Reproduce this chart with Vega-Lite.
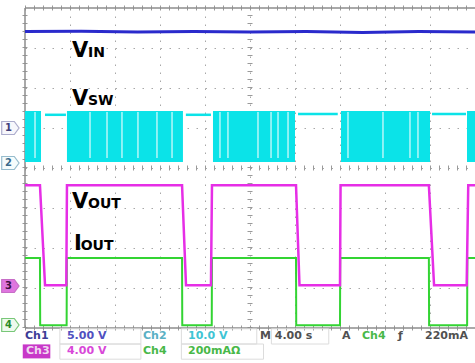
{
  "$schema": "https://vega.github.io/schema/vega-lite/v6.json",
  "width": 450,
  "height": 320,
  "autosize": {"type": "none"},
  "padding": {"left": 25, "top": 8, "right": 0, "bottom": 35},
  "background": "white",
  "config": {
    "view": {"stroke": null},
    "axis": {"domain": false, "ticks": false, "labels": false, "grid": true, "gridColor": "#a8a8a8", "gridWidth": 1},
    "axisX": {"gridDash": [1.5, 6.5]},
    "axisY": {"gridDash": [1.5, 7.5]}
  },
  "resolve": {"scale": {"color": "independent", "fill": "independent", "stroke": "independent"}},
  "datasets": {
    "vin": [
      {"t": 0, "v": 3.41}, {"t": 5, "v": 3.42}, {"t": 10, "v": 3.4}, {"t": 15, "v": 3.41},
      {"t": 20, "v": 3.4}, {"t": 25, "v": 3.41}, {"t": 30, "v": 3.39}, {"t": 35, "v": 3.41}, {"t": 40, "v": 3.4}
    ],
    "bursts": [
      {"t": 0, "t2": 1.42, "v": 0.15, "v2": 1.425},
      {"t": 3.73, "t2": 14.04, "v": 0.15, "v2": 1.425},
      {"t": 16.71, "t2": 24.0, "v": 0.15, "v2": 1.425},
      {"t": 28.09, "t2": 36.0, "v": 0.15, "v2": 1.425},
      {"t": 39.29, "t2": 40, "v": 0.15, "v2": 1.425}
    ],
    "streaks": [
      {"t": 0.89, "v": 0.25, "v2": 1.4}, {"t": 5.78, "v": 0.25, "v2": 1.4}, {"t": 7.29, "v": 0.25, "v2": 1.4},
      {"t": 8.62, "v": 0.25, "v2": 1.4}, {"t": 10.04, "v": 0.25, "v2": 1.4}, {"t": 11.73, "v": 0.25, "v2": 1.4},
      {"t": 13.07, "v": 0.25, "v2": 1.4}, {"t": 17.33, "v": 0.25, "v2": 1.4}, {"t": 18.04, "v": 0.25, "v2": 1.4},
      {"t": 20.71, "v": 0.25, "v2": 1.4}, {"t": 21.87, "v": 0.25, "v2": 1.4}, {"t": 22.49, "v": 0.25, "v2": 1.4},
      {"t": 23.38, "v": 0.25, "v2": 1.4}, {"t": 28.71, "v": 0.25, "v2": 1.4}, {"t": 31.82, "v": 0.25, "v2": 1.4},
      {"t": 34.22, "v": 0.25, "v2": 1.4}, {"t": 34.93, "v": 0.25, "v2": 1.4}
    ],
    "idle": [
      {"t": 1.78, "t2": 3.64, "v": 1.33},
      {"t": 14.3, "t2": 16.53, "v": 1.33},
      {"t": 24.27, "t2": 27.8, "v": 1.35},
      {"t": 36.18, "t2": 39.2, "v": 1.35}
    ],
    "vout": [
      {"t": 0, "v": -0.43}, {"t": 1.33, "v": -0.43}, {"t": 1.78, "v": -2.93}, {"t": 3.67, "v": -2.93},
      {"t": 3.73, "v": -0.43}, {"t": 13.96, "v": -0.43}, {"t": 14.31, "v": -2.93}, {"t": 16.53, "v": -2.93},
      {"t": 16.62, "v": -0.43}, {"t": 24.09, "v": -0.43}, {"t": 24.4, "v": -2.93}, {"t": 28.0, "v": -2.93},
      {"t": 28.05, "v": -0.43}, {"t": 35.9, "v": -0.43}, {"t": 36.36, "v": -2.93}, {"t": 39.26, "v": -2.93},
      {"t": 39.4, "v": -0.43}, {"t": 40, "v": -0.43}
    ],
    "iout": [
      {"t": 0, "v": -2.25}, {"t": 1.33, "v": -2.25}, {"t": 1.35, "v": -3.93}, {"t": 3.7, "v": -3.93},
      {"t": 3.72, "v": -2.25}, {"t": 13.96, "v": -2.25}, {"t": 13.98, "v": -3.93}, {"t": 16.6, "v": -3.93},
      {"t": 16.62, "v": -2.25}, {"t": 24.09, "v": -2.25}, {"t": 24.11, "v": -3.93}, {"t": 28.0, "v": -3.93},
      {"t": 28.02, "v": -2.25}, {"t": 35.9, "v": -2.25}, {"t": 35.92, "v": -3.93}, {"t": 39.3, "v": -3.93},
      {"t": 39.32, "v": -2.25}, {"t": 40, "v": -2.25}
    ],
    "hrules": [{"t": 0, "t2": 40, "v": 0}, {"t": 0, "t2": 40, "v": -4}, {"t": 0, "t2": 40, "v": 4}],
    "vrules": [{"t": 20, "v": -4, "v2": 4}, {"t": 0, "v": -4, "v2": 4}],
    "frameH": [{"t": 0, "t2": 40, "v": -4}, {"t": 0, "t2": 40, "v": 4}],
    "frameV": [{"t": 0, "v": -4, "v2": 4}],
    "bigLabels": [
      {"t": 4.18, "v": 2.775, "txt": "V"},
      {"t": 4.18, "v": 1.575, "txt": "V"},
      {"t": 4.18, "v": -1.0, "txt": "V"},
      {"t": 4.36, "v": -2.05, "txt": "I"}
    ],
    "smallLabels": [
      {"t": 5.6, "v": 2.775, "txt": "IN"},
      {"t": 5.6, "v": 1.575, "txt": "SW"},
      {"t": 5.6, "v": -1.0, "txt": "OUT"},
      {"t": 4.95, "v": -2.05, "txt": "OUT"}
    ],
    "markers": [
      {"t": -1.3, "v": 1.0, "n": "1", "c": "c1"},
      {"t": -1.3, "v": 0.125, "n": "2", "c": "c2"},
      {"t": -1.3, "v": -2.95, "n": "3", "c": "c3"},
      {"t": -1.3, "v": -3.925, "n": "4", "c": "c4"}
    ],
    "chipBox": [{"t": -0.2, "t2": 2.25, "v": -4.41, "v2": -4.76}],
    "valBoxes": [
      {"t": 3.1, "t2": 10.3, "v": -4.02, "v2": -4.4},
      {"t": 3.1, "t2": 10.3, "v": -4.4, "v2": -4.78},
      {"t": 13.9, "t2": 20.6, "v": -4.02, "v2": -4.4},
      {"t": 13.9, "t2": 21.2, "v": -4.4, "v2": -4.78},
      {"t": 21.9, "t2": 27.0, "v": -4.02, "v2": -4.4}
    ],
    "info": [
      {"t": 0.0, "v": -4.2, "txt": "Ch1", "c": "ch1"},
      {"t": 3.73, "v": -4.2, "txt": "5.00 V", "c": "v1"},
      {"t": 10.49, "v": -4.2, "txt": "Ch2", "c": "ch2"},
      {"t": 14.49, "v": -4.2, "txt": "10.0 V", "c": "v2"},
      {"t": 20.89, "v": -4.2, "txt": "M 4.00 s", "c": "m"},
      {"t": 28.18, "v": -4.2, "txt": "A", "c": "m"},
      {"t": 29.96, "v": -4.2, "txt": "Ch4", "c": "ch4"},
      {"t": 33.16, "v": -4.2, "txt": "ƒ", "c": "m"},
      {"t": 35.56, "v": -4.2, "txt": "220mA", "c": "m"},
      {"t": 0.09, "v": -4.58, "txt": "Ch3", "c": "ch3"},
      {"t": 3.73, "v": -4.58, "txt": "4.00 V", "c": "v3"},
      {"t": 10.49, "v": -4.58, "txt": "Ch4", "c": "ch4"},
      {"t": 14.49, "v": -4.58, "txt": "200mAΩ", "c": "v4"}
    ]
  },
  "layer": [
    {
      "data": {"name": "hrules"},
      "mark": {"type": "rule", "color": "#9a9a9a", "strokeWidth": 5, "strokeDash": [1, 8]},
      "encoding": {
        "x": {"field": "t", "type": "quantitative", "title": null,
              "scale": {"domain": [0, 40], "nice": false, "zero": false},
              "axis": {"values": [4, 8, 12, 16, 20, 24, 28, 32, 36]}},
        "x2": {"field": "t2"},
        "y": {"field": "v", "type": "quantitative", "title": null,
              "scale": {"domain": [-4, 4], "nice": false, "zero": false},
              "axis": {"values": [-3, -2, -1, 0, 1, 2, 3]}}
      }
    },
    {
      "data": {"name": "vrules"},
      "mark": {"type": "rule", "color": "#9a9a9a", "strokeWidth": 5, "strokeDash": [1, 7]},
      "encoding": {
        "x": {"field": "t", "type": "quantitative", "title": null},
        "y": {"field": "v", "type": "quantitative", "title": null},
        "y2": {"field": "v2"}
      }
    },
    {
      "data": {"name": "frameH"},
      "mark": {"type": "rule", "color": "#8c8c8c", "strokeWidth": 1.5},
      "encoding": {
        "x": {"field": "t", "type": "quantitative", "title": null},
        "x2": {"field": "t2"},
        "y": {"field": "v", "type": "quantitative", "title": null}
      }
    },
    {
      "data": {"name": "frameV"},
      "mark": {"type": "rule", "color": "#8c8c8c", "strokeWidth": 1.5},
      "encoding": {
        "x": {"field": "t", "type": "quantitative", "title": null},
        "y": {"field": "v", "type": "quantitative", "title": null},
        "y2": {"field": "v2"}
      }
    },
    {
      "data": {"name": "vin"},
      "mark": {"type": "line", "color": "#2a2acc", "strokeWidth": 3},
      "encoding": {
        "x": {"field": "t", "type": "quantitative", "title": null},
        "y": {"field": "v", "type": "quantitative", "title": null}
      }
    },
    {
      "data": {"name": "bursts"},
      "mark": {"type": "rect", "color": "#0be3e8"},
      "encoding": {
        "x": {"field": "t", "type": "quantitative", "title": null},
        "x2": {"field": "t2"},
        "y": {"field": "v", "type": "quantitative", "title": null},
        "y2": {"field": "v2"}
      }
    },
    {
      "data": {"name": "streaks"},
      "mark": {"type": "rule", "color": "#ffffff", "strokeWidth": 1.5, "opacity": 0.7},
      "encoding": {
        "x": {"field": "t", "type": "quantitative", "title": null},
        "y": {"field": "v", "type": "quantitative", "title": null},
        "y2": {"field": "v2"}
      }
    },
    {
      "data": {"name": "idle"},
      "mark": {"type": "rule", "color": "#0be3e8", "strokeWidth": 2.5},
      "encoding": {
        "x": {"field": "t", "type": "quantitative", "title": null},
        "x2": {"field": "t2"},
        "y": {"field": "v", "type": "quantitative", "title": null}
      }
    },
    {
      "data": {"name": "iout"},
      "mark": {"type": "line", "color": "#33d433", "strokeWidth": 2},
      "encoding": {
        "x": {"field": "t", "type": "quantitative", "title": null},
        "y": {"field": "v", "type": "quantitative", "title": null}
      }
    },
    {
      "data": {"name": "vout"},
      "mark": {"type": "line", "color": "#e62ee6", "strokeWidth": 2.5},
      "encoding": {
        "x": {"field": "t", "type": "quantitative", "title": null},
        "y": {"field": "v", "type": "quantitative", "title": null}
      }
    },
    {
      "data": {"name": "bigLabels"},
      "mark": {"type": "text", "align": "left", "baseline": "alphabetic", "font": "DejaVu Sans", "fontWeight": "bold", "fontSize": 21, "color": "#000000"},
      "encoding": {
        "x": {"field": "t", "type": "quantitative", "title": null},
        "y": {"field": "v", "type": "quantitative", "title": null},
        "text": {"field": "txt"}
      }
    },
    {
      "data": {"name": "smallLabels"},
      "mark": {"type": "text", "align": "left", "baseline": "alphabetic", "font": "DejaVu Sans", "fontWeight": "bold", "fontSize": 14, "color": "#000000"},
      "encoding": {
        "x": {"field": "t", "type": "quantitative", "title": null},
        "y": {"field": "v", "type": "quantitative", "title": null},
        "text": {"field": "txt"}
      }
    },
    {
      "data": {"name": "markers"},
      "mark": {"type": "point", "filled": true, "shape": "M-1,-0.75H0.45L1,0L0.45,0.75H-1Z", "size": 300, "strokeWidth": 1.2, "clip": false},
      "encoding": {
        "x": {"field": "t", "type": "quantitative", "title": null},
        "y": {"field": "v", "type": "quantitative", "title": null},
        "fill": {"field": "c", "type": "nominal", "legend": null,
                 "scale": {"domain": ["c1", "c2", "c3", "c4"], "range": ["#f4f4fb", "#f2fbfc", "#d23cd2", "#e6f8e6"]}},
        "stroke": {"field": "c", "type": "nominal", "legend": null,
                   "scale": {"domain": ["c1", "c2", "c3", "c4"], "range": ["#8a8ab8", "#6aa0b8", "#b030b0", "#40b040"]}}
      }
    },
    {
      "data": {"name": "markers"},
      "mark": {"type": "text", "align": "center", "baseline": "middle", "font": "DejaVu Sans", "fontWeight": "bold", "fontSize": 10, "dx": -2, "clip": false},
      "encoding": {
        "x": {"field": "t", "type": "quantitative", "title": null},
        "y": {"field": "v", "type": "quantitative", "title": null},
        "text": {"field": "n"},
        "color": {"field": "c", "type": "nominal", "legend": null,
                  "scale": {"domain": ["c1", "c2", "c3", "c4"], "range": ["#40407a", "#3a6a8a", "#3a1040", "#2a8a2a"]}}
      }
    },
    {
      "data": {"name": "valBoxes"},
      "mark": {"type": "rect", "fill": null, "stroke": "#dcdcdc", "strokeWidth": 1, "clip": false},
      "encoding": {
        "x": {"field": "t", "type": "quantitative", "title": null},
        "x2": {"field": "t2"},
        "y": {"field": "v", "type": "quantitative", "title": null},
        "y2": {"field": "v2"}
      }
    },
    {
      "data": {"name": "chipBox"},
      "mark": {"type": "rect", "color": "#c838c8", "clip": false},
      "encoding": {
        "x": {"field": "t", "type": "quantitative", "title": null},
        "x2": {"field": "t2"},
        "y": {"field": "v", "type": "quantitative", "title": null},
        "y2": {"field": "v2"}
      }
    },
    {
      "data": {"name": "info"},
      "mark": {"type": "text", "align": "left", "baseline": "middle", "font": "DejaVu Sans", "fontWeight": "bold", "fontSize": 11, "clip": false},
      "encoding": {
        "x": {"field": "t", "type": "quantitative", "title": null},
        "y": {"field": "v", "type": "quantitative", "title": null},
        "text": {"field": "txt"},
        "color": {"field": "c", "type": "nominal", "legend": null,
                  "scale": {"domain": ["ch1", "v1", "ch2", "v2", "m", "ch3", "v3", "ch4", "v4"],
                            "range": ["#3c3c96", "#5050c0", "#5ab0c4", "#40c4d4", "#505050", "#f0d8f0", "#d848d8", "#48b848", "#48b848"]}}
      }
    }
  ]
}
